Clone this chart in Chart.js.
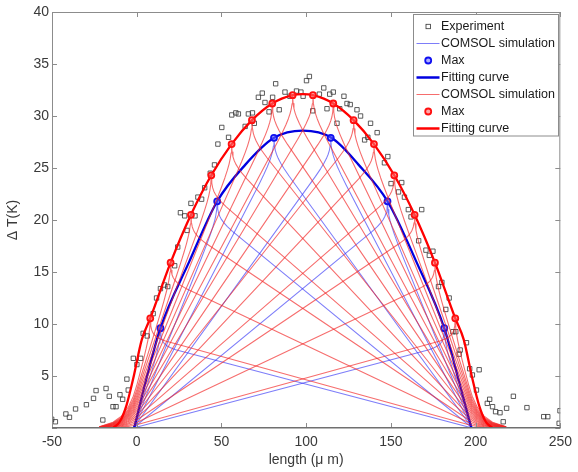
<!DOCTYPE html>
<html><head><meta charset="utf-8">
<script src="https://cdn.jsdelivr.net/npm/chart.js@4.4.1/dist/chart.umd.min.js"></script>
<style>html,body{margin:0;padding:0;background:#fff}canvas{display:block}</style>
</head><body>
<canvas id="c" width="578" height="472"></canvas>
<script>
// ---------- values ----------
const xTicks = [-50, 0, 50, 100, 150, 200, 250];
const yTicks = [0, 5, 10, 15, 20, 25, 30, 35, 40];

const expX = [-50.2,-48,-41.8,-39.7,-36.1,-29.7,-25.5,-24,-20,-18.1,-16.2,-14,-12.2,-9.9,-8.3,-5.8,-5,-2,0.1,2.3,3.8,6.2,9.7,11.7,14.0,16.4,18.3,22.4,24.2,25.8,28.3,29.7,32.0,34.4,36.1,38.3,40.1,43.4,45.9,47.9,50.2,54.2,56.1,58.5,60,64,65.9,68.3,69.4,71.8,74.1,75.7,78.1,80.2,82,84.1,87.5,90.4,94.3,96.9,98.2,100.2,101.9,103.9,107.8,110.4,112.3,113.9,116,118.2,119.8,122.3,124.1,126,130,132.1,134.5,136.4,138,141.9,146.2,148.2,150.1,154.5,156.4,158,160.3,161.9,166.4,168.2,170.7,172.7,174.8,178.1,180.1,182.4,184.4,186.6,188.3,190.3,190.9,194.6,196.5,198.1,200.5,202.1,206.9,208.3,210,211.8,214.4,216.3,218.3,222.3,230.3,240.2,242.6,249.3,249.8];
const expY = [0.84,0.6,1.35,1.03,1.83,2.24,2.85,3.6,0.77,3.8,3.05,2.05,2.05,3.2,2.76,4.7,3.65,6.7,6.1,6.7,9.1,8.85,11.0,12.5,13.4,13.75,13.6,15.6,17.4,20.7,20.4,19.0,21.6,20.4,22.2,22.0,23.1,24.5,25.3,27.3,28.9,27.95,30.1,30.3,30.2,29.0,30.2,30.3,29.3,31.8,32.2,31.3,30.4,31.8,33.1,30.6,32.3,31.9,32.4,32.3,31.9,33.4,33.8,30.5,32.1,32.7,30.7,32.1,32.3,29.3,30.7,31.9,31.2,31.1,30.6,30.0,27.7,27.95,29.3,28.4,25.5,26.1,23.5,22.7,23.6,22.2,21.0,20.3,18.0,21.0,17.1,16.6,17.0,13.6,14.0,11.4,12.5,9.26,9.26,7.1,7.5,8.2,5.7,5.1,3.65,5.6,2.37,2.76,2.05,1.57,1.47,0.6,1.9,3.05,1.96,1.09,1.09,0.45,1.66];

const blueMaxX = [14, 47.5, 81, 114.5, 148, 181.5];
const blueMaxY = [9.6, 21.8, 27.9, 27.9, 21.8, 9.6];
const redMaxX = [8, 20, 32, 44, 56, 68, 80, 92, 104, 116, 128, 140, 152, 164, 176, 188];
const redMaxY = [10.55, 15.9, 20.5, 24.3, 27.3, 29.6, 31.2, 32.0, 32.0, 31.2, 29.6, 27.3, 24.3, 20.5, 15.9, 10.55];

const blueFitX = [-1.5, 5, 14, 31, 47.5, 64, 81, 98, 115, 131, 148, 165, 181.5, 190.5, 197.5];
const blueFitY = [0, 4.3, 9.6, 16.0, 21.8, 25.3, 27.9, 28.6, 27.9, 25.3, 21.8, 16.0, 9.6, 4.3, 0];
const redFitX = [-14, -10, -6, -2, 3, 8, 20, 32, 44, 56, 68, 80, 92, 98, 104, 116, 128, 140, 152, 164, 176, 188, 193, 198, 202, 206, 210];
const redFitY = [0, 0.6, 2.2, 4.8, 8.5, 10.55, 15.9, 20.5, 24.3, 27.3, 29.6, 31.2, 32.0, 32.1, 32.0, 31.2, 29.6, 27.3, 24.3, 20.5, 15.9, 10.55, 8.5, 4.8, 2.2, 0.6, 0];

// simulated profiles: straight branches meeting zero at these x, rod ends, spike at the heated spot
const blueZero = [-2, 198];
const redZero = [-7, 203];
const redRod = [0, 196];
const blueSpike = 1.7, redSpike = 1.8;
const spikeDx = [0.3, 0.8, 1.5, 2.5, 4, 6, 9];
const spikeK = [0.6, 0.4, 0.27, 0.17, 0.09, 0.04, 0.01];
const tailDx = [2, 5, 9, 14, 22];
const tailK = [0.75, 0.49, 0.28, 0.135, 0.03];

const legendLabels = ['Experiment', 'COMSOL simulation', 'Max', 'Fitting curve', 'COMSOL simulation', 'Max', 'Fitting curve'];

// ---------- build ----------
const C = {
  exp: '#333333',
  blueSim: 'rgba(45,45,245,0.62)', blue: '#1010f0', blueFit: '#0000e0',
  redSim: 'rgba(242,40,40,0.68)', red: '#ff1010', redFit: '#ff0000'
};
const zip = (xs, ys) => xs.map((x, i) => ({x, y: ys[i]}));

function simCurve(p, h, d, z, rod) {
  const top = h - d;
  const tent = x => x <= p ? top * (x - z[0]) / (p - z[0]) : top * (z[1] - x) / (z[1] - p);
  const lo = rod ? rod[0] : z[0], hi = rod ? rod[1] : z[1];
  const pts = [];
  if (rod) for (let i = tailDx.length - 1; i >= 0; i--) pts.push({x: lo - tailDx[i], y: tent(lo) * tailK[i]});
  pts.push({x: lo, y: tent(lo)});
  for (let i = spikeDx.length - 1; i >= 0; i--) { const x = p - spikeDx[i]; if (x > lo) pts.push({x, y: tent(x) + d * spikeK[i]}); }
  pts.push({x: p, y: h});
  for (let i = 0; i < spikeDx.length; i++) { const x = p + spikeDx[i]; if (x < hi) pts.push({x, y: tent(x) + d * spikeK[i]}); }
  pts.push({x: hi, y: tent(hi)});
  if (rod) for (let i = 0; i < tailDx.length; i++) pts.push({x: hi + tailDx[i], y: tent(hi) * tailK[i]});
  return pts;
}

const datasets = [];
datasets.push({label: legendLabels[0], data: zip(expX, expY), showLine: false, pointStyle: 'rect', pointRadius: 3.1,
  borderColor: C.exp, backgroundColor: 'rgba(0,0,0,0)', borderWidth: 0.8, order: 9});
blueMaxX.forEach((p, i) => datasets.push({label: legendLabels[1], data: simCurve(p, blueMaxY[i], blueSpike, blueZero, null),
  showLine: true, pointRadius: 0, borderColor: C.blueSim, borderWidth: 1.05, tension: 0, order: 8}));
datasets.push({label: legendLabels[3], data: zip(blueFitX, blueFitY), showLine: true, pointRadius: 0, borderColor: C.blueFit,
  borderWidth: 2.3, cubicInterpolationMode: 'monotone', order: 6});
datasets.push({label: legendLabels[2], data: zip(blueMaxX, blueMaxY), showLine: false, pointStyle: 'circle', pointRadius: 3,
  borderColor: C.blue, backgroundColor: 'rgba(110,110,255,0.55)', borderWidth: 1.8, order: 5});
redMaxX.forEach((p, i) => datasets.push({label: legendLabels[4], data: simCurve(p, redMaxY[i], redSpike, redZero, redRod),
  showLine: true, pointRadius: 0, borderColor: C.redSim, borderWidth: 1.1, tension: 0, order: 4}));
datasets.push({label: legendLabels[6], data: zip(redFitX, redFitY), showLine: true, pointRadius: 0, borderColor: C.redFit,
  borderWidth: 2.3, cubicInterpolationMode: 'monotone', order: 2});
datasets.push({label: legendLabels[5], data: zip(redMaxX, redMaxY), showLine: false, pointStyle: 'circle', pointRadius: 3,
  borderColor: C.red, backgroundColor: 'rgba(255,110,110,0.6)', borderWidth: 1.8, order: 1});

const FONT = '"Liberation Sans", Arial, sans-serif';

const framePlugin = {
  id: 'frame',
  afterDatasetsDraw(chart) {
    const {ctx, chartArea: a, scales: {x, y}} = chart;
    ctx.save();
    ctx.strokeStyle = '#8c8c8c';
    ctx.lineWidth = 1;
    ctx.beginPath();
    ctx.moveTo(a.left + 0.5, a.bottom); ctx.lineTo(a.left + 0.5, a.top + 0.5);
    ctx.lineTo(a.right - 0.5, a.top + 0.5); ctx.lineTo(a.right - 0.5, a.bottom);
    ctx.stroke();
    ctx.beginPath();
    x.ticks.forEach(t => { const px = Math.round(x.getPixelForValue(t.value)) + 0.5;
      ctx.moveTo(px, a.bottom); ctx.lineTo(px, a.bottom - 5); ctx.moveTo(px, a.top); ctx.lineTo(px, a.top + 5); });
    y.ticks.forEach(t => { const py = Math.round(y.getPixelForValue(t.value)) + 0.5;
      ctx.moveTo(a.left, py); ctx.lineTo(a.left + 5, py); ctx.moveTo(a.right, py); ctx.lineTo(a.right - 5, py); });
    ctx.stroke();
    ctx.strokeStyle = '#707070';
    ctx.lineWidth = 1.6;
    ctx.beginPath(); ctx.moveTo(a.left, a.bottom - 0.3); ctx.lineTo(a.right, a.bottom - 0.3); ctx.stroke();
    ctx.restore();
  },
  afterDraw(chart) {
    const {ctx} = chart;
    const bx = 413.5, by = 14.5, bw = 145, bh = 121.5;
    ctx.save();
    ctx.fillStyle = '#fff'; ctx.fillRect(bx, by, bw, bh);
    ctx.strokeStyle = '#8c8c8c'; ctx.lineWidth = 1; ctx.strokeRect(bx, by, bw, bh);
    const styles = [
      {k: 'rect', c: C.exp}, {k: 'line', c: C.blueSim, w: 1}, {k: 'circle', c: C.blue, f: 'rgba(110,110,255,0.55)'},
      {k: 'line', c: C.blueFit, w: 2.5}, {k: 'line', c: C.redSim, w: 1}, {k: 'circle', c: C.red, f: 'rgba(255,110,110,0.6)'},
      {k: 'line', c: C.redFit, w: 2.5}
    ];
    ctx.font = '12.5px ' + FONT;
    ctx.textBaseline = 'middle';
    ctx.textAlign = 'left';
    legendLabels.forEach((lab, i) => {
      const cy = 26.5 + i * 17;
      const s = styles[i];
      if (s.k === 'line') {
        ctx.strokeStyle = s.c; ctx.lineWidth = s.w;
        ctx.beginPath(); ctx.moveTo(416.5, cy); ctx.lineTo(439.5, cy); ctx.stroke();
      } else if (s.k === 'rect') {
        ctx.strokeStyle = s.c; ctx.lineWidth = 0.8; ctx.strokeRect(426, cy - 2.2, 4.4, 4.4);
      } else {
        ctx.strokeStyle = s.c; ctx.lineWidth = 1.8; ctx.fillStyle = s.f;
        ctx.beginPath(); ctx.arc(428.2, cy, 3, 0, Math.PI * 2); ctx.fill(); ctx.stroke();
      }
      ctx.fillStyle = '#1a1a1a';
      ctx.fillText(lab, 441, cy + 0.5);
    });
    ctx.restore();
  }
};

new Chart(document.getElementById('c'), {
  type: 'scatter',
  data: {datasets},
  options: {
    responsive: false,
    animation: false,
    devicePixelRatio: 1,
    layout: {padding: {top: 12, right: 15, left: 0, bottom: 0}},
    plugins: {legend: {display: false}, tooltip: {enabled: false}},
    elements: {line: {borderJoinStyle: 'round'}},
    scales: {
      x: {
        type: 'linear', min: -50, max: 250,
        afterBuildTicks: s => { s.ticks = xTicks.map(v => ({value: v})); },
        afterFit: s => { s.height = 44; },
        grid: {display: false, drawTicks: false},
        border: {display: false},
        ticks: {padding: 6, color: '#3a3a3a', font: {size: 14, family: FONT}, maxRotation: 0, autoSkip: false},
        title: {display: true, text: 'length (\u03bc m)', color: '#3a3a3a', font: {size: 14, family: FONT}, padding: {top: 0, bottom: 3}}
      },
      y: {
        type: 'linear', min: 0, max: 40,
        afterBuildTicks: s => { s.ticks = yTicks.map(v => ({value: v})); },
        afterFit: s => { s.width = 52; },
        grid: {display: false, drawTicks: false},
        border: {display: false},
        ticks: {padding: 3, color: '#3a3a3a', font: {size: 14, family: FONT}, autoSkip: false,
          callback: v => v === 0 ? '' : v},
        title: {display: true, text: '\u0394 T(K)', color: '#3a3a3a', font: {size: 14, family: FONT}, padding: {top: 5, bottom: 0}}
      }
    }
  },
  plugins: [framePlugin]
});
</script>
</body></html>
